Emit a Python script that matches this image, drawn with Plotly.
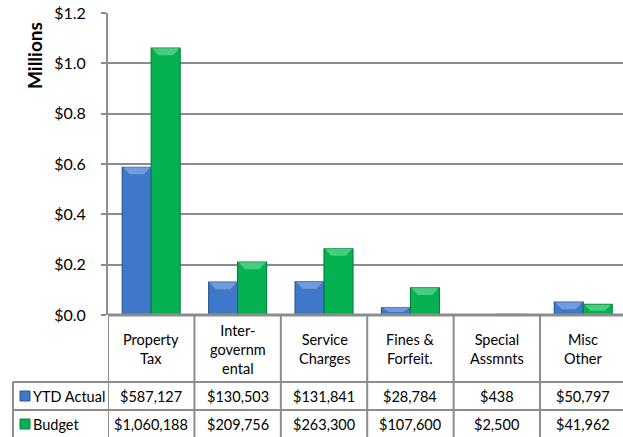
import plotly.graph_objects as go

# Revenue categories and values (dollars)
categories = ["Property<br>Tax", "Inter-<br>governm<br>ental", "Service<br>Charges",
              "Fines &<br>Forfeit.", "Special<br>Assmnts", "Misc<br>Other"]
ytd_actual = [587127, 130503, 131841, 28784, 438, 50797]
budget = [1060188, 209756, 263300, 107600, 2500, 41962]
series_names = ["YTD Actual", "Budget"]
y_ticks = [0.0, 0.2, 0.4, 0.6, 0.8, 1.0, 1.2]
y_tick_text = ["$0.0", "$0.2", "$0.4", "$0.6", "$0.8", "$1.0", "$1.2"]

W, H = 623, 437
L, R, T, B = 108, 0, 13, 122
PW, PH = W - L - R, H - T - B
FONT = "Lato"
GRID = "#8c8c8c"

BLUE, BLUE_EDGE, BLUE_HI = "#3f77c9", "#2b5797", "#8fb5ec"
GREEN, GREEN_EDGE, GREEN_HI = "#06b152", "#04843c", "#6fe39a"

BARGAP = 0.33
HALF = (1 - BARGAP) / 2
X_MAX = 5.46


def px(xp):
    return (xp - L) / PW


def py(yp):
    return (T + PH - yp) / PH


def money(v):
    return "${:,.0f}".format(v)


xs = list(range(len(categories)))
act_m = [v / 1e6 for v in ytd_actual]
bud_m = [v / 1e6 for v in budget]

fig = go.Figure()
fig.add_trace(go.Bar(x=xs, y=act_m, name=series_names[0],
                     marker=dict(color=BLUE, line=dict(color=BLUE_EDGE, width=1.2))))
fig.add_trace(go.Bar(x=xs, y=bud_m, name=series_names[1],
                     marker=dict(color=GREEN, line=dict(color=GREEN_EDGE, width=1.2))))

shapes = []
# bevelled highlight on the top of each bar
bevel = 7 * 1.2 / PH
for i in xs:
    for vals, off, hi in ((act_m, -HALF, BLUE_HI), (bud_m, 0.0, GREEN_HI)):
        v = vals[i]
        if v * PH / 1.2 < 2:
            continue
        h = min(bevel, v * 0.6)
        x0, x1 = i + off + 0.01, i + off + HALF - 0.01
        d = HALF * 0.22
        path = f"M {x0},{v} L {x1},{v} L {x1-d},{v-h} L {x0+d},{v-h} Z"
        shapes.append(dict(type="path", path=path, xref="x", yref="y",
                           fillcolor=hi, opacity=0.6, line=dict(width=0), layer="above"))

# data table grid
line = dict(color=GRID, width=2)
for k in range(len(categories) + 1):
    xv = k - 0.5
    shapes.append(dict(type="line", xref="x", yref="paper", x0=xv, x1=xv,
                       y0=py(315), y1=py(H + 2), line=line))
for yp in (382, 410):
    shapes.append(dict(type="line", xref="paper", yref="paper", x0=px(13), x1=1.02,
                       y0=py(yp), y1=py(yp), line=line))
shapes.append(dict(type="line", xref="paper", yref="paper", x0=px(13), x1=px(13),
                   y0=py(382), y1=py(H + 2), line=line))
shapes.append(dict(type="line", xref="paper", yref="paper", x0=0, x1=1.02,
                   y0=py(315), y1=py(315), line=dict(color=GRID, width=3)))

# legend keys inside the table
for yc, col, edge in ((396, BLUE, BLUE_EDGE), (424, GREEN, GREEN_EDGE)):
    shapes.append(dict(type="rect", xref="paper", yref="paper",
                       x0=px(20), x1=px(30), y0=py(yc + 5), y1=py(yc - 5),
                       fillcolor=col, line=dict(color=edge, width=1)))

ann = []
tfont = dict(family=FONT, size=14.5, color="#000000")
for i in xs:
    ann.append(dict(x=i, y=py(349), xref="x", yref="paper", text=categories[i],
                    showarrow=False, font=tfont, align="center", yanchor="middle"))
    ann.append(dict(x=i, y=py(396), xref="x", yref="paper", text=money(ytd_actual[i]),
                    showarrow=False, font=tfont, yanchor="middle"))
    ann.append(dict(x=i, y=py(424), xref="x", yref="paper", text=money(budget[i]),
                    showarrow=False, font=tfont, yanchor="middle"))
for yc, name in ((396, series_names[0]), (424, series_names[1])):
    ann.append(dict(x=px(31), y=py(yc), xref="paper", yref="paper", text=name,
                    showarrow=False, font=tfont, xanchor="left", yanchor="middle"))
ann.append(dict(x=px(35), y=py(56), xref="paper", yref="paper", text="<b>Millions</b>",
                showarrow=False, textangle=-90, font=dict(family=FONT, size=19, color="#000"),
                xanchor="center", yanchor="middle"))

fig.update_layout(
    width=W, height=H, margin=dict(l=L, r=R, t=T, b=B),
    paper_bgcolor="white", plot_bgcolor="white",
    barmode="group", bargap=BARGAP, bargroupgap=0,
    showlegend=False, shapes=shapes, annotations=ann,
    xaxis=dict(range=[-0.5, X_MAX], showticklabels=False, showgrid=False,
               zeroline=False, showline=False, fixedrange=True),
    yaxis=dict(range=[0, 1.2], tickvals=y_ticks, ticktext=y_tick_text,
               showgrid=True, gridcolor=GRID, gridwidth=1.5,
               showline=True, linecolor=GRID, linewidth=2,
               ticks="outside", ticklen=5, tickcolor=GRID, tickwidth=1.5,
               ticklabelstandoff=12, zeroline=False,
               tickfont=dict(family=FONT, size=16, color="#000")),
)

fig.write_html("out.html")
